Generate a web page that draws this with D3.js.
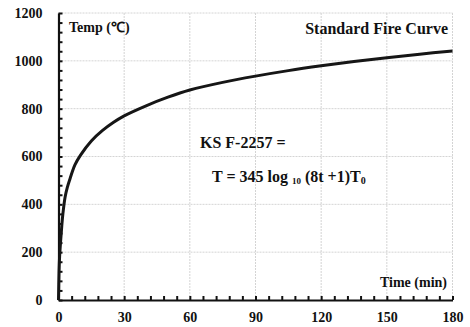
<!DOCTYPE html>
<html>
<head>
<meta charset="utf-8">
<script src="https://cdn.jsdelivr.net/npm/d3@7"></script>
<style>
  body { margin: 0; background: #fff; }
  svg text { font-family: "Liberation Serif", "Times New Roman", serif; font-weight: bold; fill: #111; }
</style>
</head>
<body>
<div id="chart"></div>
<script>
// values
const timeMin = [0, 0.25, 0.5, 1, 1.5, 2, 3, 4, 5, 7.5, 10, 15, 20, 25, 30, 40, 50, 60, 75, 90, 105, 120, 135, 150, 165, 180];
const tempC   = [0, 120, 180, 250, 310, 360, 430, 470, 500, 565, 605, 665, 708, 742, 770, 812, 848, 878, 910, 936, 959, 979, 997, 1013, 1028, 1041];
const xTicks = [0, 30, 60, 90, 120, 150, 180];
const yTicks = [0, 200, 400, 600, 800, 1000, 1200];

const width = 470, height = 327;
const serif = '"Liberation Serif", "Times New Roman", serif';

const svg = d3.select("#chart").append("svg")
    .attr("width", width)
    .attr("height", height);

const x = d3.scaleLinear().domain([0, 180]).range([58.5, 452.5]);
const y = d3.scaleLinear().domain([0, 1200]).range([300, 13]);

// grid
const grid = svg.append("g")
    .attr("stroke", "#d4d4d4")
    .attr("stroke-width", 1)
    .attr("stroke-dasharray", "2,1");
grid.selectAll("line.v")
    .data(xTicks.filter(d => d > 0))
    .enter().append("line")
    .attr("x1", d => x(d)).attr("x2", d => x(d))
    .attr("y1", y(0)).attr("y2", y(1200));
grid.selectAll("line.h")
    .data(yTicks.filter(d => d > 0))
    .enter().append("line")
    .attr("x1", x(0)).attr("x2", x(180))
    .attr("y1", d => y(d)).attr("y2", d => y(d));

// axes, ticks point inward
const yAxis = d3.axisLeft(y)
    .tickValues(d3.range(0, 1201, 40))
    .tickSizeInner(-4)
    .tickSizeOuter(0)
    .tickPadding(16)
    .tickFormat(d => yTicks.includes(d) ? d : "");
const gy = svg.append("g")
    .attr("transform", `translate(${x(0)},0)`)
    .call(yAxis);

const xAxis = d3.axisBottom(x)
    .tickValues(d3.range(0, 181, 6))
    .tickSizeInner(-4)
    .tickSizeOuter(0)
    .tickPadding(12)
    .tickFormat(d => xTicks.includes(d) ? d : "");
const gx = svg.append("g")
    .attr("transform", `translate(0,${y(0)})`)
    .call(xAxis);

[gx, gy].forEach(g => {
    g.attr("font-family", null).attr("font-size", null);
    g.select(".domain").attr("stroke", "#111").attr("stroke-width", 2.2);
    g.selectAll(".tick line").attr("stroke", "#111").attr("stroke-width", 2);
    g.selectAll("text")
        .style("font-family", serif)
        .style("font-weight", "bold")
        .style("font-size", "14px")
        .attr("fill", "#111");
});

// curve
const pts = timeMin.map((t, i) => [t, tempC[i]]);
const line = d3.line()
    .x(d => x(d[0]))
    .y(d => y(d[1]))
    .curve(d3.curveCatmullRom.alpha(0.5));
svg.append("path")
    .datum(pts)
    .attr("fill", "none")
    .attr("stroke", "#161616")
    .attr("stroke-width", 3)
    .attr("d", line);

// labels
svg.append("text")
    .attr("x", 69).attr("y", 32)
    .style("font-size", "14px")
    .text("Temp (\u2103)");

svg.append("text")
    .attr("x", 448).attr("y", 34)
    .attr("text-anchor", "end")
    .style("font-size", "16px")
    .text("Standard Fire Curve");

svg.append("text")
    .attr("x", 447).attr("y", 287)
    .attr("text-anchor", "end")
    .style("font-size", "14px")
    .text("Time (min)");

svg.append("text")
    .attr("x", 200).attr("y", 148)
    .style("font-size", "16px")
    .text("KS F-2257 =");

const f = svg.append("text")
    .attr("x", 212).attr("y", 182)
    .style("font-size", "16px");
f.append("tspan").text("T = 345 log ");
f.append("tspan").attr("dy", 2).style("font-size", "9px").text("10");
f.append("tspan").attr("dy", -2).text(" (8t +1)T");
f.append("tspan").attr("dy", 2).style("font-size", "10px").text("0");
</script>
</body>
</html>
